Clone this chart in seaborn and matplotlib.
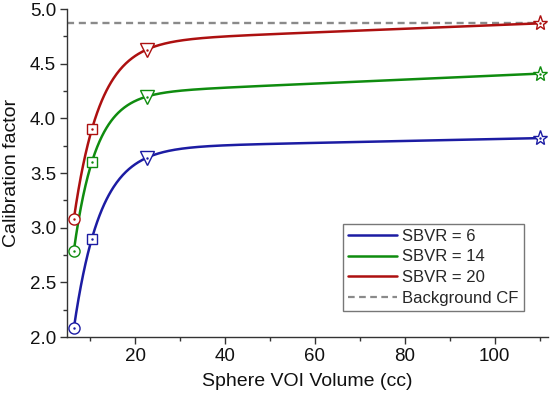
import numpy as np
import pandas as pd
import matplotlib
matplotlib.use("Agg")
import matplotlib.pyplot as plt
from matplotlib.lines import Line2D
from matplotlib.legend_handler import HandlerLine2D
import seaborn as sns

# ---- data ----
volumes = [6.4, 10.4, 22.6, 110.0]
sbvr6 = [2.08, 2.90, 3.64, 3.82]
sbvr14 = [2.79, 3.60, 4.20, 4.41]
sbvr20 = [3.08, 3.90, 4.63, 4.87]
series_labels = ["SBVR = 6", "SBVR = 14", "SBVR = 20"]
background_label = "Background CF"
background_cf = 4.87
marker_shapes = ["o", "s", "v", "*"]

colors = ["#1c1ca3", "#0f8c0f", "#ad1010"]


def smooth_through(x, y, xs):
    """Smooth saturating curve passing through the given points (a + b*x - c*exp(-x/tau))."""
    x = np.asarray(x, float); y = np.asarray(y, float)
    best = None
    for tau in np.linspace(1.0, 40.0, 3901):
        A = np.column_stack([np.ones_like(x), x, np.exp(-x / tau)])
        coef = np.linalg.lstsq(A, y, rcond=None)[0]
        r = np.sum((A @ coef - y) ** 2)
        if best is None or r < best[0]:
            best = (r, tau, coef)
    _, tau, coef = best
    return coef[0] + coef[1] * xs + coef[2] * np.exp(-xs / tau)


class OffsetLineHandler(HandlerLine2D):
    def __init__(self, shift=0.0, **kw):
        super().__init__(**kw)
        self.shift = shift

    def create_artists(self, legend, orig_handle, xdescent, ydescent, width, height, fontsize, trans):
        arts = super().create_artists(legend, orig_handle, xdescent, ydescent, width, height, fontsize, trans)
        for a in arts:
            xd = np.asarray(a.get_xdata(), float)
            if len(xd) == 2:
                a.set_xdata([xd[0] + self.shift, xd[1]])
        return arts


sns.set_theme(style="ticks")
plt.rcParams["font.family"] = ["Liberation Sans", "DejaVu Sans"]

fig = plt.figure(figsize=(5.5, 3.97), dpi=100)
ax = fig.add_axes([0.122, 0.151, 0.874, 0.826])

xs = np.linspace(volumes[0], volumes[-1], 600)
rows = []
for lab, vals in zip(series_labels, [sbvr6, sbvr14, sbvr20]):
    rows.append(pd.DataFrame({"Volume": xs, "CF": smooth_through(volumes, vals, xs), "Series": lab}))
curves = pd.concat(rows, ignore_index=True)
sns.lineplot(data=curves, x="Volume", y="CF", hue="Series", palette=colors,
             linewidth=1.8, ax=ax, legend=False, sort=False, estimator=None)

ax.axhline(background_cf, color="#8a8a8a", linestyle=(0, (3, 2)), linewidth=1.7, zorder=1)

msizes = {"o": 8, "s": 7.5, "v": 10, "*": 11}
for vals, c in zip([sbvr6, sbvr14, sbvr20], colors):
    for xv, yv, mk in zip(volumes, vals, marker_shapes):
        ax.plot([xv], [yv], marker=mk, ms=msizes[mk], mfc="white", mec=c,
                mew=1.0, linestyle="none", zorder=4, clip_on=False)
        ax.plot([xv], [yv], marker=".", ms=1.5, color=c, linestyle="none", zorder=5, clip_on=False)

ax.set_xlim(4.9, 111.8)
ax.set_ylim(2.0, 5.0)
ax.set_xticks([20, 40, 60, 80, 100])
ax.set_xticks([10, 30, 50, 70, 90, 110], minor=True)
ax.set_yticks(np.arange(2.0, 5.01, 0.5))
ax.set_yticks(np.arange(2.25, 5.0, 0.5), minor=True)
ax.yaxis.set_major_formatter(matplotlib.ticker.FormatStrFormatter("%.1f"))
ax.tick_params(axis="both", which="major", direction="out", length=5, width=1,
               labelsize=13.5, color="#333333", labelcolor="#111111", pad=3)
ax.tick_params(axis="both", which="minor", direction="out", length=3, width=1, color="#333333")
for s in ["top", "right"]:
    ax.spines[s].set_visible(False)
for s in ["left", "bottom"]:
    ax.spines[s].set_color("#333333")
    ax.spines[s].set_linewidth(1.0)

ax.set_xlabel("Sphere VOI Volume (cc)", fontsize=14, color="#111111", labelpad=6)
ax.set_ylabel("Calibration factor", fontsize=14, color="#111111", labelpad=7)

handles = [Line2D([0], [0], color=c, lw=1.8) for c in colors]
handles.append(Line2D([0], [0], color="#8a8a8a", lw=1.6, linestyle=(0, (3, 2))))
leg = ax.legend(handles, series_labels + [background_label], loc="lower right",
                bbox_to_anchor=(0.950, 0.079), borderaxespad=0.0, fontsize=12,
                frameon=True, fancybox=False, handlelength=2.94, labelspacing=0.35,
                borderpad=0.3, handletextpad=0.3,
                handler_map={Line2D: OffsetLineHandler(shift=7.9)})
leg.get_frame().set_edgecolor("#555555")
leg.get_frame().set_linewidth(1.0)

fig.savefig("out.png", dpi=100)
